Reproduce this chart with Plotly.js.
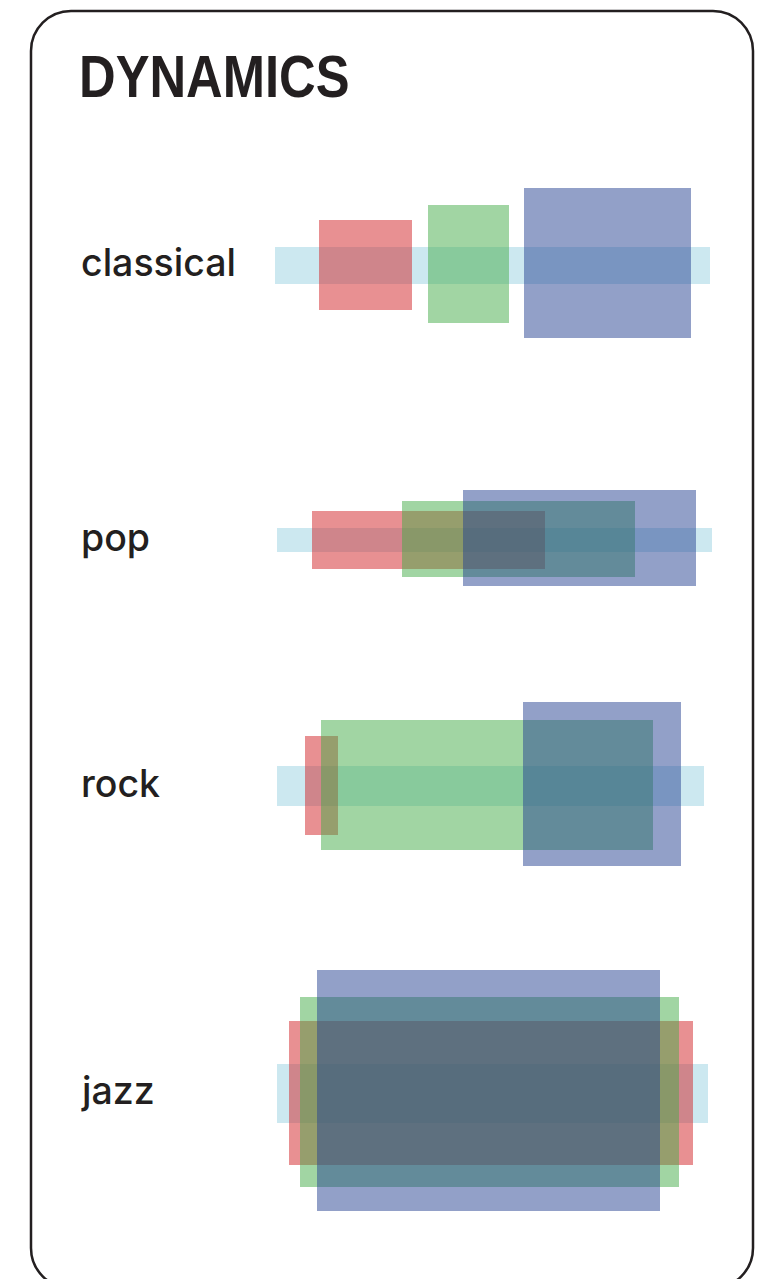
<!DOCTYPE html>
<html>
<head>
<meta charset="utf-8">
<script src="https://cdn.plot.ly/plotly-3.0.1.min.js"></script>
<style>
  html, body { margin: 0; padding: 0; background: #ffffff; }
  #chart { width: 773px; height: 1279px; }
</style>
</head>
<body>
<div id="chart"></div>
<script>
// ---------- DATA ----------
const categories = ['classical', 'pop', 'rock', 'jazz'];

// full range band (light blue)
const rangeStart = [-0.2, 0.2, 0.2, 0.2];
const rangeEnd   = [100.0, 100.5, 98.6, 99.5];
const rangeThick = [37, 24, 40, 59];

// red band
const redStart = [9.9, 8.2, 6.7, 3.0];
const redEnd   = [31.3, 62.0, 14.3, 96.1];
const redThick = [90, 58, 99, 144];

// green band
const greenStart = [35.0, 29.0, 10.4, 5.5];
const greenEnd   = [53.7, 82.7, 86.9, 92.9];
const greenThick = [118, 76, 130, 190];

// blue band
const blueStart = [57.1, 43.1, 56.9, 9.4];
const blueEnd   = [95.6, 96.8, 93.3, 88.5];
const blueThick = [150, 96, 164, 241];

const titleText = 'DYNAMICS';

// ---------- LAYOUT CONSTANTS ----------
const W = 773, H = 1279;
const rowCenters = [265.5, 540, 786.3, 1093];
const bandShift = { range: 0, red: -0.5, green: -1.2, blue: -2.3 };

function diff(a, b) { return a.map((v, i) => v - b[i]); }

function band(starts, ends, thick, color, name) {
  return {
    type: 'bar',
    orientation: 'h',
    name: name,
    y: rowCenters.map(c => c + bandShift[name]),
    base: starts,
    x: diff(ends, starts),
    width: thick,
    marker: { color: color, line: { width: 0 } },
    hoverinfo: 'skip',
    showlegend: false
  };
}

const traces = [
  band(rangeStart, rangeEnd, rangeThick, 'rgba(153,209,225,0.5)', 'range'),
  band(redStart, redEnd, redThick, 'rgba(209,33,37,0.5)', 'red'),
  band(greenStart, greenEnd, greenThick, 'rgba(67,171,71,0.5)', 'green'),
  band(blueStart, blueEnd, blueThick, 'rgba(37,65,145,0.5)', 'blue')
];

// rounded frame path in paper coords
function P(x, y) { return (x / W).toFixed(5) + ',' + (1 - y / H).toFixed(5); }
const L = 31, R = 753, T = 11, B = 1288, r = 40, k = 0.5523 * r;
const framePath =
  'M ' + P(L, T + r) +
  ' C ' + P(L, T + r - k) + ' ' + P(L + r - k, T) + ' ' + P(L + r, T) +
  ' L ' + P(R - r, T) +
  ' C ' + P(R - r + k, T) + ' ' + P(R, T + r - k) + ' ' + P(R, T + r) +
  ' L ' + P(R, B - r) +
  ' C ' + P(R, B - r + k) + ' ' + P(R - r + k, B) + ' ' + P(R - r, B) +
  ' L ' + P(L + r, B) +
  ' C ' + P(L + r - k, B) + ' ' + P(L, B - r + k) + ' ' + P(L, B - r) + ' Z';

const annotations = categories.map((c, i) => ({
  text: c,
  xref: 'paper', yref: 'y',
  x: 79 / W, y: rowCenters[i],
  xanchor: 'left', yanchor: 'middle',
  yshift: 3,
  showarrow: false,
  font: { family: 'Inter, "Liberation Sans", Arial, sans-serif', size: 37.5, color: '#231f20', weight: 500 }
}));

annotations.push({
  text: '<b>' + titleText + '</b>',
  xref: 'paper', yref: 'paper',
  x: 77 / W, y: 1 - 77 / H,
  xanchor: 'left', yanchor: 'middle',
  showarrow: false,
  font: { family: '"Liberation Sans", Arial, sans-serif', size: 59, color: '#231f20' }
});

const layout = {
  width: W, height: H,
  margin: { l: 0, r: 0, t: 0, b: 0, pad: 0 },
  paper_bgcolor: '#ffffff',
  plot_bgcolor: '#ffffff',
  barmode: 'overlay',
  bargap: 0,
  xaxis: { range: [-63.6, 114.5], visible: false, fixedrange: true, domain: [0, 1] },
  yaxis: { range: [H, 0], visible: false, fixedrange: true, domain: [0, 1] },
  shapes: [{
    type: 'path', xref: 'paper', yref: 'paper', path: framePath,
    line: { color: '#231f20', width: 2.5 }, fillcolor: 'rgba(0,0,0,0)', layer: 'above'
  }],
  annotations: annotations,
  showlegend: false
};

Plotly.newPlot('chart', traces, layout, { staticPlot: true, displayModeBar: false }).then(function (gd) {
  // condense the title horizontally (no condensed bold face is installed)
  const texts = gd.querySelectorAll('.annotation-text');
  const t = texts[texts.length - 1];
  if (t) {
    const bb = t.getBBox();
    const s = 0.86;
    const left = bb.x;
    t.setAttribute('transform', 'translate(' + left + ',0) scale(' + s + ',1) translate(' + (-left) + ',0)');
  }
});
</script>
</body>
</html>
